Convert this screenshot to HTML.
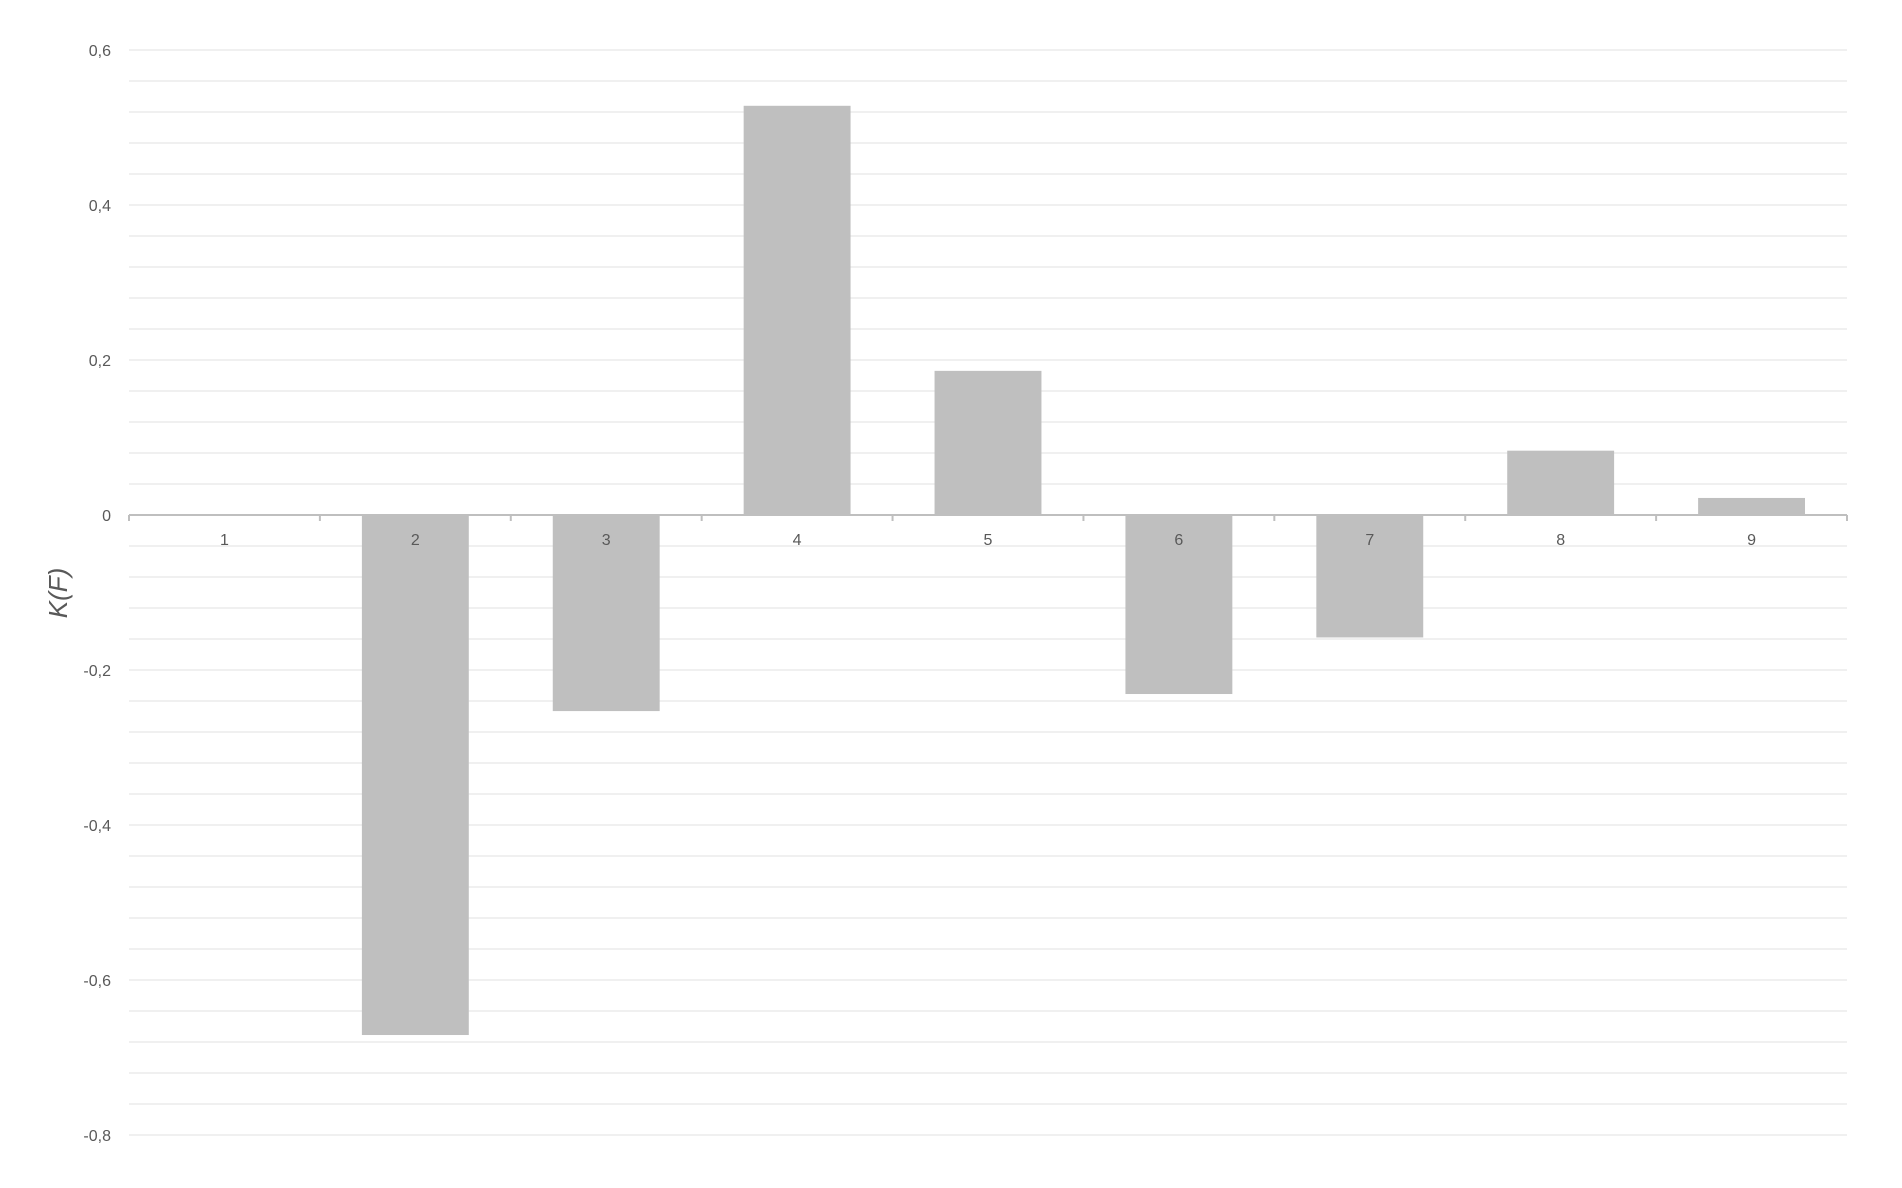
<!DOCTYPE html>
<html><head><meta charset="utf-8"><style>
html,body{margin:0;padding:0;background:#fff;}
svg{display:block;font-family:"Liberation Sans",sans-serif;}
</style></head>
<body>
<svg id="chart" width="1902" height="1188" viewBox="0 0 1902 1188">
<g id="grid"></g>
<g id="bars"></g>
<g id="axis"></g>
<g id="ylabels"></g>
<text x="0" y="0" transform="translate(67,593) rotate(-90)" text-anchor="middle" font-size="26" font-style="italic" fill="#595959">K(F)</text>
</svg>
<script>
const categories = ["1","2","3","4","5","6","7","8","9"];
const values = [0, -0.671, -0.253, 0.528, 0.186, -0.231, -0.158, 0.083, 0.022];
const yTicks = [0.6, 0.4, 0.2, 0, -0.2, -0.4, -0.6, -0.8];
const yTickLabels = ["0,6","0,4","0,2","0","-0,2","-0,4","-0,6","-0,8"];
const yMin = -0.8, yMax = 0.6, minorStep = 0.04;

const NS = "http://www.w3.org/2000/svg";
const pLeft = 129, pRight = 1847, pTop = 50, pBottom = 1135;
function yScale(v){ return pTop + (yMax - v) / (yMax - yMin) * (pBottom - pTop); }
const band = (pRight - pLeft) / categories.length;
function xCenter(i){ return pLeft + (i + 0.5) * band; }
const barW = band * 0.56;
function mk(tag, attrs, parent){ const e = document.createElementNS(NS, tag); for (const k in attrs) e.setAttribute(k, attrs[k]); parent.appendChild(e); return e; }

const grid = document.getElementById("grid");
const nMinor = Math.round((yMax - yMin) / minorStep);
for (let k = 0; k <= nMinor; k++) {
  const v = yMax - k * minorStep;
  const gl = mk("line", {x1:pLeft, x2:pRight, y1:yScale(v), y2:yScale(v), stroke:"#ececec", "stroke-width":1.5}, grid);
  
  
}

const ylab = document.getElementById("ylabels");
yTicks.forEach((t, i) => {
  const tx = mk("text", {x:111, y:yScale(t)+6, "text-anchor":"end", "font-size":16, fill:"#595959"}, ylab);
  tx.textContent = yTickLabels[i];
  
  
});

const bars = document.getElementById("bars");
values.forEach((v, i) => {
  const y0 = yScale(0), y1 = yScale(v);
  const r = mk("rect", {x:xCenter(i)-barW/2, y:Math.min(y0,y1), width:barW, height:Math.abs(y1-y0), fill:"#bfbfbf"}, bars);
  
  
});

const axis = document.getElementById("axis");
const al = mk("line", {x1:pLeft, x2:pRight, y1:yScale(0), y2:yScale(0), stroke:"#bfbfbf", "stroke-width":2}, axis);


for (let i = 0; i <= categories.length; i++) {
  const x = pLeft + i * band;
  const tk = mk("line", {x1:x, x2:x, y1:yScale(0), y2:yScale(0)+6, stroke:"#bfbfbf", "stroke-width":2}, axis);
  
  
}
categories.forEach((c, i) => {
  const tx = mk("text", {x:xCenter(i), y:yScale(0)+30, "text-anchor":"middle", "font-size":16, fill:"#595959"}, axis);
  tx.textContent = c;
  
  
});
</script>
</body></html>
